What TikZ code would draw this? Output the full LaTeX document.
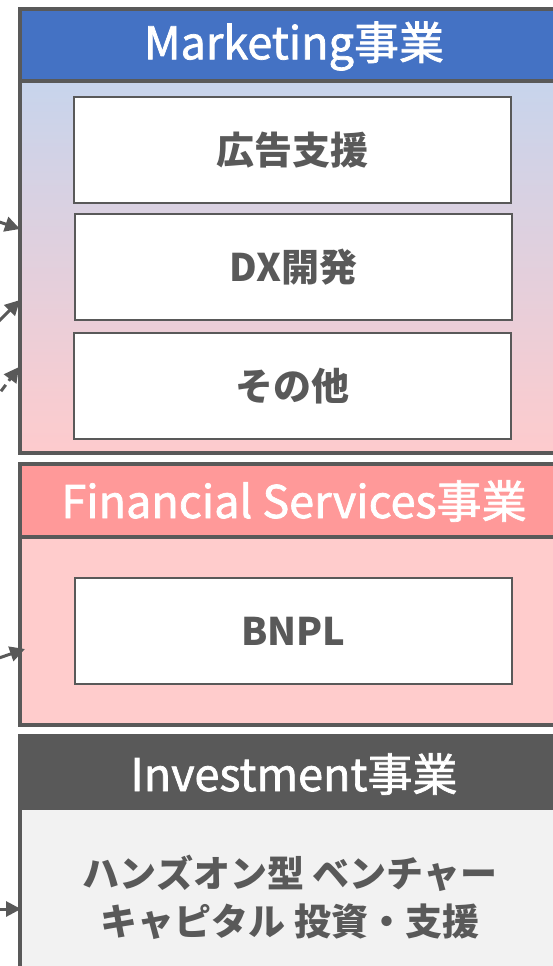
\documentclass[tikz,border=0pt]{standalone}
\usepackage{fontspec}
\setmainfont{Noto Sans CJK JP}
\newfontfamily\jp{Noto Sans CJK JP}
\newfontfamily\jpmed[FakeBold=1.6]{Noto Sans CJK JP}
\usetikzlibrary{arrows.meta}
\definecolor{mblue}{HTML}{4472C4}
\definecolor{mtop}{HTML}{C7D4EC}
\definecolor{mbot}{HTML}{FECBCD}
\definecolor{fhead}{HTML}{FF9999}
\definecolor{fbody}{HTML}{FFCCCC}
\definecolor{igrey}{HTML}{595959}
\definecolor{ibody}{HTML}{F2F2F2}
\tikzset{
  panelborder/.style={draw=igrey, line width=4pt},
  hdrtext/.style={text=white, font=\jpmed\fontsize{45}{52}\selectfont, inner sep=0pt},
  itembox/.style={draw=igrey, line width=2.6pt, fill=white, minimum width=437pt, minimum height=106pt, inner sep=0pt,
    font=\jp\bfseries\fontsize{38}{44}\selectfont, text=igrey},
  feed/.style={draw=igrey, line width=3pt, -{Triangle[length=15pt,width=15pt]}},
}
\begin{document}
\begin{tikzpicture}[x=1pt,y=-1pt]
\useasboundingbox (0,0) rectangle (553,966);
\clip (0,0) rectangle (553,966);
% Marketing panel
\shade[top color=mtop, bottom color=mbot] (20,81) rectangle (580,453);
\fill[mblue] (20,9) rectangle (580,81);
\draw[panelborder] (20,9) rectangle (580,453);
\draw[panelborder] (20,81) -- (580,81);
\node[hdrtext] (mkh) at (294,46) {Marketing事業};
\node[itembox] (ad) at (292.5,150) {広告支援};
\node[itembox] (dx) at (293.5,267) {DX開発};
\node[itembox] (oth) at (292.5,386) {その他};
% Financial Services panel
\fill[fbody] (20,464) rectangle (580,725);
\fill[fhead] (20,464) rectangle (580,537);
\draw[panelborder] (20,464) rectangle (580,725);
\draw[panelborder] (20,537) -- (580,537);
\node[hdrtext] (fsh) at (294,501) {Financial Services事業};
\node[itembox] (bnpl) at (293.5,631) {BNPL};
% Investment panel
\fill[ibody] (20,736) rectangle (580,1000);
\fill[igrey] (20,736) rectangle (580,810);
\draw[panelborder] (20,736) rectangle (580,1000);
\node[hdrtext] (ivh) at (294,774) {Investment事業};
\node[font=\jp\bfseries\fontsize{37}{48}\selectfont, text=igrey, align=center, inner sep=0pt] (vc) at (290,897)
  {ハンズオン型 ベンチャー\\キャピタル 投資・支援};
% incoming connectors
\coordinate (s1) at (-30,212);
\coordinate (t1) at (20,229);
\coordinate (s2) at (-30,350);
\coordinate (t2) at (20,300);
\coordinate (s3) at (-30,433);
\coordinate (t3) at (19,367);
\coordinate (s4) at (-30,668);
\coordinate (t4) at (25,649);
\coordinate (s5) at (-30,909);
\coordinate (t5) at (21,909);
\draw[feed] (s1) -- (t1);
\draw[feed] (s2) -- (t2);
\draw[feed, dash pattern=on 8pt off 5pt] (s3) -- (t3);
\draw[feed] (s4) -- (t4);
\draw[feed] (s5) -- (t5);
\end{tikzpicture}
\end{document}
